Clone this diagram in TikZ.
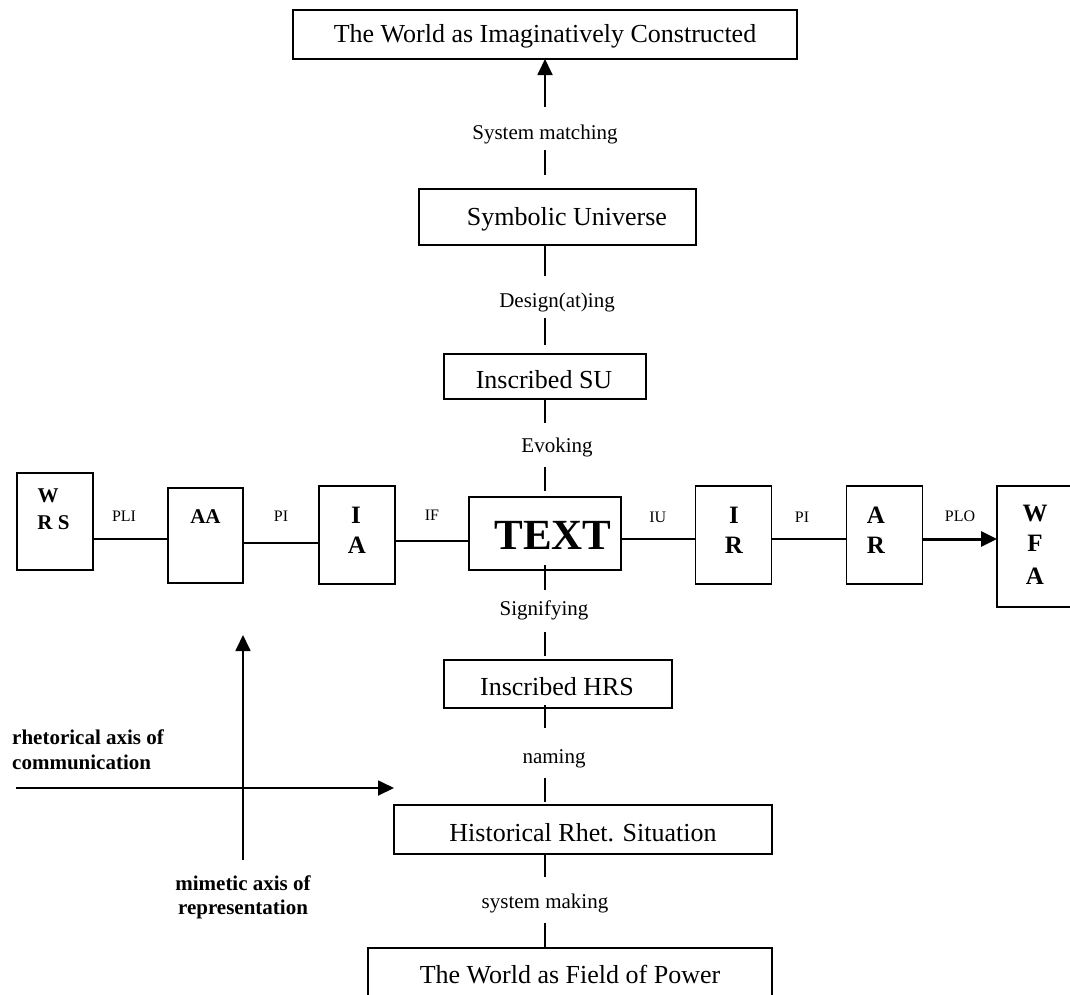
\documentclass[tikz,border=0pt]{standalone}
\usepackage{fontspec}
\setmainfont{Liberation Serif}
\usetikzlibrary{arrows.meta}
\begin{document}
\begin{tikzpicture}[x=1pt,y=-1pt,
  box/.style={draw, line width=1.8pt, inner sep=0pt, outer sep=0pt},
  conn/.style={line width=1.8pt},
  thickconn/.style={line width=3pt},
  arrowtip/.style={-{Triangle[length=16pt,width=15pt]}},
  big/.style={font=\fontsize{26}{30}\selectfont, inner sep=0pt, text height=17pt, text depth=0pt},
  lab/.style={font=\fontsize{21}{25}\selectfont, inner sep=0pt, text height=14pt, text depth=0pt},
  small/.style={font=\fontsize{16}{19}\selectfont, inner sep=0pt, text height=10.6pt, text depth=0pt},
  ltr/.style={font=\bfseries\fontsize{25}{30}\selectfont, inner sep=0pt, text height=16.8pt, text depth=0pt},
  ltrs/.style={font=\bfseries\fontsize{21}{25}\selectfont, inner sep=0pt, text height=14pt, text depth=0pt},
  axl/.style={font=\bfseries\fontsize{21}{25}\selectfont, inner sep=0pt, text height=14pt, text depth=0pt},
]
\useasboundingbox (0,0) rectangle (1070,994);

% ---------- boxes ----------
\node[box, minimum width=504pt, minimum height=49pt] (top) at (545,34.5) {};
\node[big] (toptxt) at (545,34) {The World as Imaginatively Constructed};

\node[box, minimum width=277pt, minimum height=56pt] (su) at (557.5,217) {};
\node[big] (sutxt) at (567,217) {Symbolic Universe};

\node[box, minimum width=202pt, minimum height=45pt] (isu) at (545,376.5) {};
\node[big] (isutxt) at (544,380) {Inscribed SU};

\node[box, minimum width=152pt, minimum height=73pt] (tb) at (544.6,533.5) {};
\node[font=\bfseries\fontsize{43}{50}\selectfont, inner sep=0pt, text height=29pt, text depth=0pt] (tbtxt) at (553,535) {TEXT};

\node[box, minimum width=228pt, minimum height=48pt] (ihrs) at (558,684) {};
\node[big] (ihrstxt) at (557,687) {Inscribed HRS};

\node[box, minimum width=378pt, minimum height=49pt] (hrs) at (583,829.5) {};
\node[big] (hrstxt) at (583,833) {Historical Rhet. Situation};

\node[box, minimum width=404pt, minimum height=52pt] (bot) at (570,974) {};
\node[big] (bottxt) at (570,975) {The World as Field of Power};

\node[box, minimum width=76pt, minimum height=97pt] (wrs) at (55,521.5) {};
\node[ltrs] (wrs1) at (48,495) {W};
\node[ltrs] (wrs2) at (53.5,522) {R S};

\node[box, minimum width=75pt, minimum height=95pt] (aa) at (205.5,535.5) {};
\node[ltrs] (aa1) at (205.5,516) {AA};

\node[box, minimum width=76pt, minimum height=98pt] (ia) at (357,535) {};
\node[ltr] (ia1) at (356,515) {I};
\node[ltr] (ia2) at (357,545) {A};

\node[box, minimum width=76pt, minimum height=98pt] (ir) at (733.4,535) {};
\node[ltr] (ir1) at (734,515) {I};
\node[ltr] (ir2) at (734,545) {R};

\node[box, minimum width=76pt, minimum height=98pt] (ar) at (884.4,535) {};
\node[ltr] (ar1) at (876,515) {A};
\node[ltr] (ar2) at (876,545) {R};

\node[box, minimum width=78pt, minimum height=121pt] (wfa) at (1036,546.5) {};
\node[ltr] (wfa1) at (1035,513) {W};
\node[ltr] (wfa2) at (1035,543) {F};
\node[ltr] (wfa3) at (1035,576) {A};

% ---------- horizontal connectors ----------
\coordinate (y1) at (0,539);
\coordinate (y2) at (0,543);
\coordinate (y3) at (0,541);
\draw[conn] (wrs.east |- y1) -- (aa.west |- y1);
\draw[conn] (aa.east |- y2) -- (ia.west |- y2);
\draw[conn] (ia.east |- y3) -- (tb.west |- y3);
\draw[conn] (tb.east |- y1) -- (ir.west |- y1);
\draw[conn] (ir.east |- y1) -- (ar.west |- y1);
\draw[thickconn, arrowtip] (ar.east |- y1) -- (wfa.west |- y1);

\node[small] (pli) at (124,516) {PLI};
\node[small] (pi1) at (281,516) {PI};
\node[small] (if) at (432,515) {IF};
\node[small] (iu) at (657.7,517) {IU};
\node[small] (pi2) at (802,517) {PI};
\node[small] (plo) at (960,516) {PLO};

% ---------- vertical connectors ----------
\coordinate (vx) at (545,0);
\coordinate (a1) at (545,107);
\coordinate (a2) at (545,150);
\coordinate (a3) at (545,175);
\coordinate (a4) at (545,276);
\coordinate (a5) at (545,318);
\coordinate (a6) at (545,345);
\coordinate (a7) at (545,423);
\coordinate (a8) at (545,467);
\coordinate (a9) at (545,491);
\coordinate (a10) at (545,565);
\coordinate (a11) at (545,590);
\coordinate (a12) at (545,632);
\coordinate (a13) at (545,656);
\coordinate (a14) at (545,705);
\coordinate (a15) at (545,728);
\coordinate (a16) at (545,778);
\coordinate (a17) at (545,802);
\coordinate (a18) at (545,877);
\coordinate (a19) at (545,923);

\draw[conn, arrowtip] (a1) -- (top.south -| vx);
\draw[conn] (a2) -- (a3);
\draw[conn] (su.south -| vx) -- (a4);
\draw[conn] (a5) -- (a6);
\draw[conn] (isu.south -| vx) -- (a7);
\draw[conn] (a8) -- (a9);
\draw[conn] (a10) -- (a11);
\draw[conn] (a12) -- (a13);
\draw[conn] (a14) -- (a15);
\draw[conn] (a16) -- (a17);
\draw[conn] (hrs.south -| vx) -- (a18);
\draw[conn] (a19) -- (bot.north -| vx);

\node[lab] (l1) at (545,132) {System matching};
\node[lab] (l2) at (557,300) {Design(at)ing};
\node[lab] (l3) at (557,445) {Evoking};
\node[lab] (l4) at (544,608) {Signifying};
\node[lab] (l5) at (554,756) {naming};
\node[lab] (l6) at (545,901) {system making};

% ---------- axes ----------
\coordinate (vb) at (243,860);
\coordinate (vt) at (243,635);
\coordinate (hl) at (16,788);
\coordinate (hr) at (394,788);
\draw[conn, arrowtip] (vb) -- (vt);
\draw[conn, arrowtip] (hl) -- (hr);

\node[axl, anchor=west] (r1) at (12,737) {rhetorical axis of};
\node[axl, anchor=west] (r2) at (12,762) {communication};
\node[axl] (m1) at (243,883) {mimetic axis of};
\node[axl] (m2) at (243,907) {representation};
\end{tikzpicture}
\end{document}
